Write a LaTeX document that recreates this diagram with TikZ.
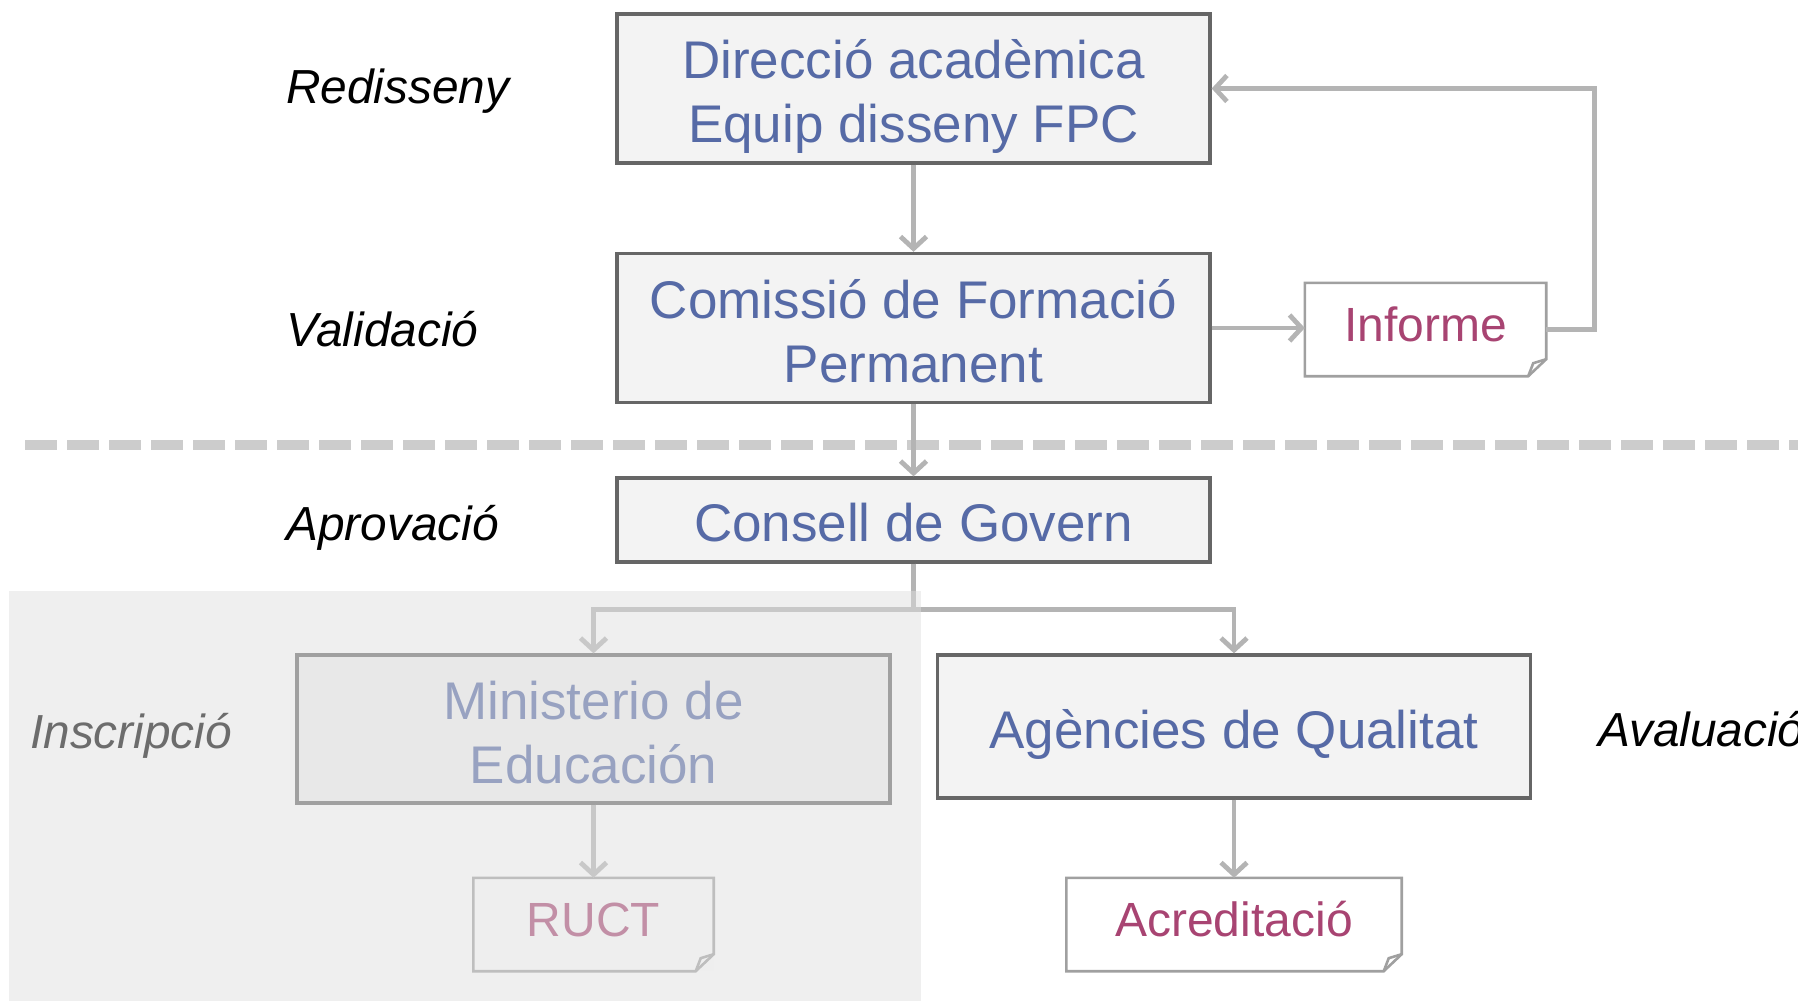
\documentclass[tikz,border=0pt]{standalone}
\usepackage{fontspec}
\setmainfont{Liberation Sans}
\usetikzlibrary{arrows.meta}

\definecolor{boxblue}{RGB}{86,106,166}
\definecolor{docred}{RGB}{168,68,114}
\definecolor{boxline}{RGB}{102,102,102}
\definecolor{boxfill}{RGB}{243,243,243}
\definecolor{docgray}{RGB}{160,160,160}
\definecolor{flowgray}{RGB}{180,180,180}
\definecolor{dashgray}{RGB}{204,204,204}
\definecolor{veil}{gray}{0.87}

% folded sheet round a document node
\newcommand{\docframe}[1]{%
  \draw[docline] (#1.north west) -- (#1.north east) -- ([yshift=17pt]#1.south east)
    -- ([xshift=-18pt]#1.south east) -- (#1.south west) -- cycle;
  \draw[docline] ([yshift=17pt]#1.south east) -- ([xshift=-13pt,yshift=13pt]#1.south east)
    -- ([xshift=-18pt]#1.south east);
}

\begin{document}
\begin{tikzpicture}[x=1pt,y=-1pt,
  unitbox/.style={draw=boxline,fill=boxfill,line width=3.3pt,minimum width=593pt,inner sep=0pt,
    align=center,text=boxblue,font=\fontsize{53}{64}\selectfont,text height=54pt,text depth=11pt},
  twolines/.style={text height=118pt,text depth=10pt},
  doc/.style={fill=white,minimum height=93pt,inner sep=0pt,text height=40pt,text depth=17pt,
    text=docred,font=\fontsize{48}{58}\selectfont},
  docline/.style={draw=docgray,line width=2.6pt,line join=miter},
  flow/.style={draw=flowgray,line width=4.8pt,-{Straight Barb[length=12pt,width=26pt]}},
  phase/.style={anchor=west,inner sep=0pt,font=\fontsize{47.8}{57}\selectfont\itshape}]
\useasboundingbox (0,0) rectangle (1798,1001);

\draw[dashgray,line width=10pt,dash pattern=on 32pt off 10pt] (25,445) -- (1798,445);

\node[phase] (redis) at (286,91.5) {Redisseny};
\node[phase] (valid) at (286,329) {Validació};
\node[phase] (aprov) at (286,527.5) {Aprovació};
\node[phase] (inscr) at (30,735.5) {Inscripció};
\node[phase] (aval) at (1598,729) {Avaluació};

\node[unitbox,twolines,minimum height=149pt] (dir) at (913.5,88.5) {Direcció acadèmica\\Equip disseny FPC};
\node[unitbox,twolines,minimum height=149pt] (cfp) at (913.5,328) {Comissió de Formació\\Permanent};
\node[unitbox,minimum height=84pt] (gov) at (913.5,520) {Consell de Govern};
\node[unitbox,twolines,minimum height=148pt] (min) at (593.5,729) {Ministerio de\\Educación};
\node[unitbox,minimum height=143pt] (agq) at (1234,726.5) {Agències de Qualitat};

\node[doc,minimum width=241pt] (inf) at (1425.5,329.5) {Informe};
\node[doc,minimum width=240pt] (ruct) at (593.5,924.5) {RUCT};
\node[doc,minimum width=335pt] (acr) at (1234,924.5) {Acreditació};
\docframe{inf}
\docframe{ruct}
\docframe{acr}

\draw[flow] (dir.south) -- (cfp.north);
\draw[flow] (cfp.east) -- (cfp.east -| inf.west);
\draw[flow] (inf.east) -- ++(48,0) |- (dir.east);
\draw[flow] (cfp.south) -- (gov.north);
\draw[flow] (gov.south) -- ++(0,46) -| (min.north);
\draw[flow] (gov.south) -- ++(0,46) -| (agq.north);
\draw[flow] (min.south) -- (ruct.north);
\draw[flow] (agq.south) -- (acr.north);

% greyed-out part
\fill[veil,fill opacity=0.49] (9,591) rectangle (921,1001);

\end{tikzpicture}
\end{document}
